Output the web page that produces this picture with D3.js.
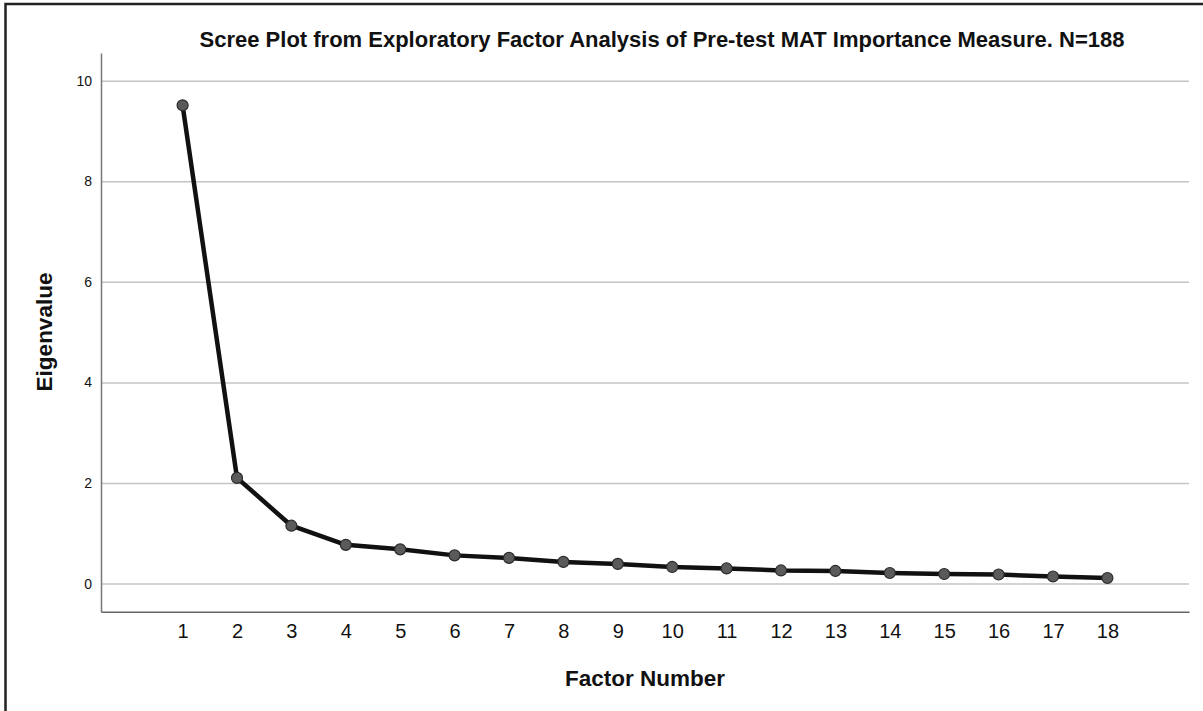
<!DOCTYPE html>
<html>
<head>
<meta charset="utf-8">
<script src="https://cdn.jsdelivr.net/npm/d3@7"></script>
<style>
  body { margin:0; background:#fff; }
  svg text { font-family: "Liberation Sans", Arial, sans-serif; fill:#111; }
</style>
</head>
<body>
<div id="chart"></div>
<script>
// scree plot values
var factors = [1,2,3,4,5,6,7,8,9,10,11,12,13,14,15,16,17,18];
var eigenvalues = [9.51,2.10,1.15,0.77,0.68,0.56,0.51,0.43,0.39,0.33,0.30,0.26,0.25,0.21,0.19,0.18,0.14,0.11];
var yTicks = [0,2,4,6,8,10];
var title = "Scree Plot from Exploratory Factor Analysis of Pre-test MAT Importance Measure. N=188";

var W = 1203, H = 711;
var margin = {left:101, right:14, top:53, bottom:99.3};

var svg = d3.select("#chart").append("svg")
	.attr("width", W)
	.attr("height", H);

// outer frame (only left and top show in the picture)
svg.append("path")
	.attr("d", "M5.5,711 L5.5,4 L1203,4")
	.attr("fill", "none")
	.attr("stroke", "#222")
	.attr("stroke-width", 2.5);

var x = d3.scaleLinear()
	.domain([-0.5, 19.5])
	.range([margin.left, W - margin.right]);
var y = d3.scaleLinear()
	.domain([-0.56, 10.55])
	.range([H - margin.bottom, margin.top]);

// grid
svg.append("g")
	.attr("transform", "translate(" + margin.left + ",0)")
	.call(d3.axisLeft(y).tickValues(yTicks).tickSize(-(W - margin.right - margin.left)).tickFormat(""))
	.call(function(g){
		g.select(".domain").remove();
		g.selectAll("line").attr("stroke", "#c4c4c4").attr("stroke-width", 1.5);
	});

// y axis
svg.append("g")
	.attr("transform", "translate(" + margin.left + ",0)")
	.call(d3.axisLeft(y).tickValues(yTicks).tickSize(0).tickPadding(9))
	.call(function(g){
		g.select(".domain").attr("stroke", "#777").attr("stroke-width", 1.5);
		g.selectAll("text").attr("font-size", 14).attr("fill", "#111");
	});

// x axis
svg.append("g")
	.attr("transform", "translate(0," + (H - margin.bottom) + ")")
	.call(d3.axisBottom(x).tickValues(factors).tickSize(0).tickPadding(12))
	.call(function(g){
		g.select(".domain").attr("stroke", "#666").attr("stroke-width", 1.5);
		g.selectAll("text").attr("font-size", 20).attr("fill", "#222");
	});

// line
var line = d3.line()
	.x(function(d, i){ return x(factors[i]); })
	.y(function(d){ return y(d); });

svg.append("path")
	.datum(eigenvalues)
	.attr("d", line)
	.attr("fill", "none")
	.attr("stroke", "#111")
	.attr("stroke-width", 4.5)
	.attr("stroke-linejoin", "round");

svg.selectAll("circle.pt")
	.data(eigenvalues)
  .enter().append("circle")
	.attr("class", "pt")
	.attr("cx", function(d, i){ return x(factors[i]); })
	.attr("cy", function(d){ return y(d); })
	.attr("r", 5.5)
	.attr("fill", "#5a5a5a")
	.attr("stroke", "#2a2a2a")
	.attr("stroke-width", 1.2);

// titles
svg.append("text")
	.attr("x", 662)
	.attr("y", 47)
	.attr("text-anchor", "middle")
	.attr("font-size", 22)
	.attr("font-weight", "bold")
	.text(title);

svg.append("text")
	.attr("x", (margin.left + W - margin.right) / 2)
	.attr("y", 686)
	.attr("text-anchor", "middle")
	.attr("font-size", 22.5)
	.attr("font-weight", "bold")
	.text("Factor Number");

svg.append("text")
	.attr("transform", "translate(52,332) rotate(-90)")
	.attr("text-anchor", "middle")
	.attr("font-size", 22.5)
	.attr("font-weight", "bold")
	.text("Eigenvalue");
</script>
</body>
</html>
